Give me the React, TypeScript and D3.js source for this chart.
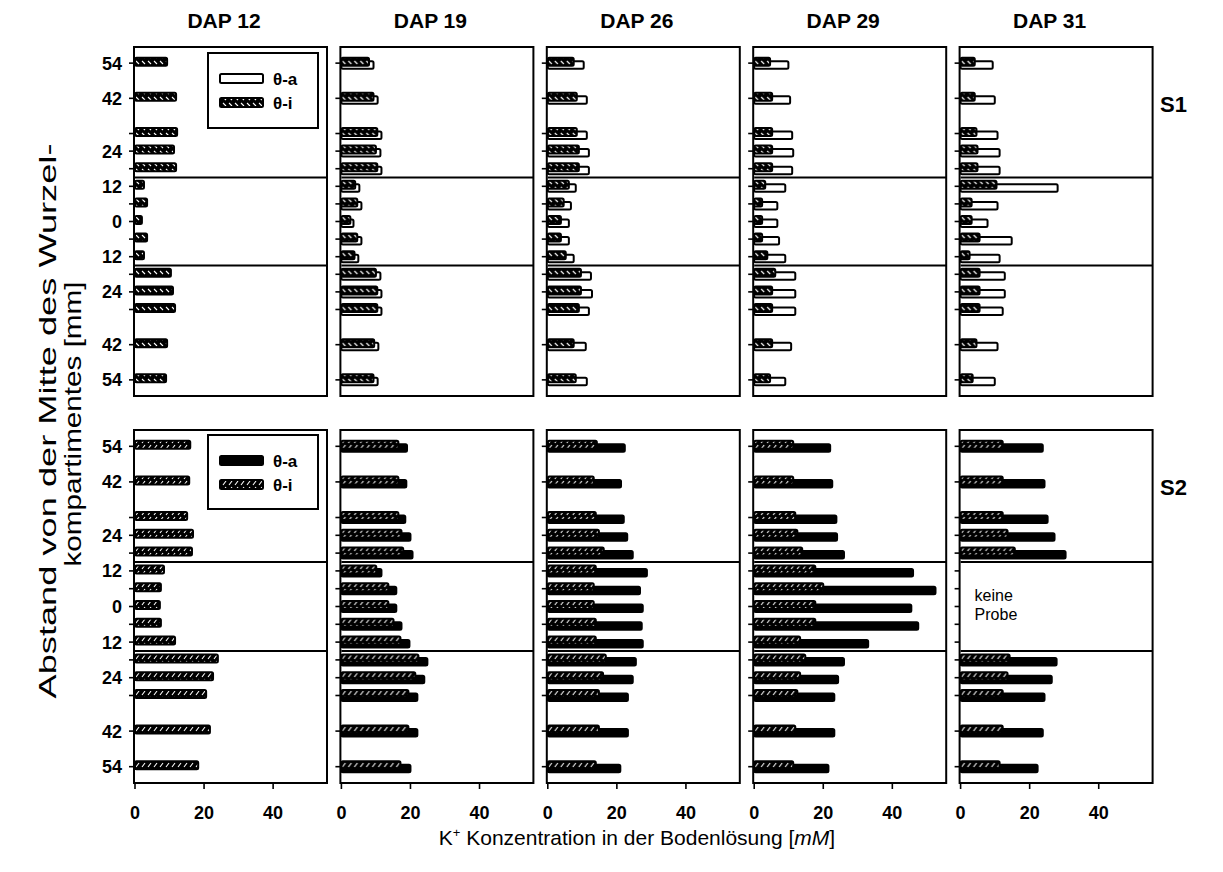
import React from "react";
import * as d3 from "d3";

// distance from the centre of the root compartment, top (+) to bottom (-)
const positions = [54, 42, 30, 24, 18, 12, 6, 0, -6, -12, -18, -24, -30, -42, -54];
const yTickLabels = ["54", "42", "", "24", "", "12", "", "0", "", "12", "", "24", "", "42", "54"];
const days = ["DAP 12", "DAP 19", "DAP 26", "DAP 29", "DAP 31"];
const xTicks = [0, 20, 40];

const N = null;
// S1: theta-a (open bars), theta-i (hatched)
const s1ThetaA: (number | null)[][] = [
  [N, N, N, N, N, N, N, N, N, N, N, N, N, N, N],
  [9.3, 10.5, 11.6, 11.3, 11.6, 5.2, 5.8, 3.5, 5.8, 4.9, 11.3, 11.6, 11.6, 10.7, 10.5],
  [10.4, 11.3, 11.3, 11.9, 11.9, 8.1, 6.7, 6.1, 6.1, 7.5, 12.5, 12.8, 11.9, 11, 11.3],
  [9.9, 10.4, 11, 11.3, 11, 9, 6.7, 6.7, 7.2, 9, 11.9, 11.9, 11.9, 10.7, 9],
  [9.3, 9.9, 10.7, 11.3, 11.3, 28.1, 10.7, 7.8, 14.8, 11.3, 12.8, 12.8, 12.2, 10.7, 9.9],
];
const s1ThetaI: (number | null)[][] = [
  [9.3, 11.9, 12.2, 11.3, 11.9, 2.6, 3.5, 2, 3.5, 2.6, 10.4, 11, 11.6, 9.3, 9],
  [8, 9.3, 10.4, 10, 10.4, 4, 4.6, 2.6, 4.6, 3.8, 10, 10.4, 10.4, 9.5, 9.3],
  [7.5, 8.4, 8.4, 9, 9, 6.1, 4.6, 3.8, 3.8, 5.2, 9.6, 9.6, 9, 7.5, 8.1],
  [4.6, 5.2, 5.2, 5.2, 5.2, 3.2, 2.3, 2.3, 2.3, 3.8, 6.1, 5.2, 5.2, 5.2, 4.6],
  [4.1, 4.1, 4.6, 4.9, 4.9, 10.4, 3.2, 3.2, 5.5, 2.6, 5.5, 5.5, 5.5, 4.6, 3.5],
];
// S2: theta-a (black bars), theta-i (hatched)
const s2ThetaA: (number | null)[][] = [
  [N, N, N, N, N, N, N, N, N, N, N, N, N, N, N],
  [19, 18.8, 18.5, 20, 20.6, 11.6, 15.9, 15.9, 17.4, 19.7, 24.9, 24, 22, 22, 20],
  [22.3, 21.2, 22, 23, 24.6, 28.7, 26.7, 27.5, 27.2, 27.5, 25.5, 24.6, 23.2, 23.2, 21],
  [22, 22.6, 23.8, 24, 26, 46, 52.5, 45.5, 47.5, 33, 26, 24.3, 23.2, 23.2, 21.5],
  [23.8, 24.3, 25.2, 27.2, 30.4, N, N, N, N, N, 27.8, 26.4, 24.3, 23.8, 22.3],
];
const s2ThetaI: (number | null)[][] = [
  [16, 15.7, 15.1, 16.8, 16.5, 8.4, 7.5, 7.2, 7.5, 11.6, 24, 22.6, 20.6, 21.7, 18.3],
  [16.5, 16.5, 16.5, 17.4, 17.9, 10.1, 13.6, 13.6, 15.1, 17.1, 22.3, 21.4, 19.4, 19.4, 17.1],
  [14.2, 13.3, 13.9, 14.8, 16.2, 13.9, 13.3, 13.3, 13.9, 13.9, 16.8, 16, 14.8, 14.8, 13.9],
  [11.3, 11.3, 11.9, 12.5, 13.9, 17.7, 20, 17.7, 17.7, 13.3, 14.8, 13.3, 12.5, 11.9, 11.3],
  [12.2, 12.2, 12.2, 13.6, 15.7, N, N, N, N, N, 14.2, 13.6, 12.2, 12.2, 11.3],
];

const FONT = "'Liberation Sans', Arial, sans-serif";
const colLeft = 135;
const colStep = 206.4;
const panelW = 192;
const rows = [
  { top: 47, bottom: 396, label: "S1", a: s1ThetaA, i: s1ThetaI, aFill: "#fff" },
  { top: 430, bottom: 783, label: "S2", a: s2ThetaA, i: s2ThetaI, aFill: "#000" },
];

const x = d3.scaleLinear().domain([0, 55.6]).range([0, panelW]);

const Panel = ({ row, col }: { row: number; col: number }) => {
  const r = rows[row];
  const y = d3.scaleLinear().domain([59.5, -59.5]).range([r.top, r.bottom]);
  const left = colLeft + col * colStep;
  const aVals = r.a[col];
  const iVals = r.i[col];
  return (
    <g transform={`translate(${left},0)`}>
      {positions.map((p, k) =>
        aVals[k] == null ? null : (
          <rect key={"a" + k} x={x(0)} y={y(p) - 2} width={x(aVals[k] as number)} height={7.5}
            rx={1.5} fill={r.aFill} stroke="#000" strokeWidth={2} />
        )
      )}
      {positions.map((p, k) =>
        iVals[k] == null ? null : (
          <rect key={"i" + k} x={x(0)} y={y(p) - 5.5} width={x(iVals[k] as number)} height={8}
            rx={1.5} fill={`url(#hatch${row})`} stroke="#000" strokeWidth={2} />
        )
      )}
      {[15, -15].map((v) => (
        <line key={v} x1={0} x2={panelW} y1={y(v)} y2={y(v)} stroke="#000" strokeWidth={2} />
      ))}
      <rect x={-1} y={r.top} width={panelW + 1} height={r.bottom - r.top} fill="none" stroke="#000" strokeWidth={2} />
      {positions.map((p, k) => (
        <line key={"t" + k} x1={-6} x2={-1} y1={y(p)} y2={y(p)} stroke="#000" strokeWidth={1.6} />
      ))}
      {col === 0 &&
        positions.map((p, k) => (
          <text key={"l" + k} x={-13} y={y(p)} dy="0.36em" textAnchor="end" fontSize={18}
            fontWeight="bold" fontFamily={FONT}>{yTickLabels[k]}</text>
        ))}
      {row === 1 &&
        xTicks.map((t) => (
          <g key={t}>
            <line x1={x(t)} x2={x(t)} y1={r.bottom} y2={r.bottom + 6} stroke="#000" strokeWidth={1.6} />
            <text x={x(t)} y={819} textAnchor="middle" fontSize={18} fontWeight="bold" fontFamily={FONT}>{t}</text>
          </g>
        ))}
      {row === 0 && (
        <text x={panelW / 2 - 7} y={28} textAnchor="middle" fontSize={21} fontWeight="bold" fontFamily={FONT}>
          {days[col]}
        </text>
      )}
      {row === 1 && col === 4 && (
        <text x={14} y={y(0) - 6} fontSize={16} fontFamily={FONT}>
          <tspan x={14}>keine</tspan>
          <tspan x={14} dy={19}>Probe</tspan>
        </text>
      )}
    </g>
  );
};

const Legend = ({ row }: { row: number }) => {
  const r = rows[row];
  const top = row === 0 ? 53 : 435;
  const h = row === 0 ? 75 : 74;
  return (
    <g>
      <rect x={208} y={top} width={110} height={h} fill="#fff" stroke="#000" strokeWidth={2} />
      <rect x={220} y={top + 21} width={43} height={9} rx={1.5} fill={r.aFill} stroke="#000" strokeWidth={2} />
      <rect x={220} y={top + 45} width={43} height={9} rx={1.5} fill={`url(#hatch${row})`} stroke="#000" strokeWidth={2} />
      <text x={273} y={top + 26} dy="0.36em" fontSize={17} fontWeight="bold" fontFamily={FONT}>θ-a</text>
      <text x={273} y={top + 50} dy="0.36em" fontSize={17} fontWeight="bold" fontFamily={FONT}>θ-i</text>
    </g>
  );
};

export default function App() {
  return (
    <svg width={1223} height={872} style={{ display: "block", position: "absolute", left: 0, top: 0 }}>
      <defs>
        <pattern id="hatch0" patternUnits="userSpaceOnUse" width={6} height={6}>
          <rect width={6} height={6} fill="#000" />
          <path d="M1,1 L4,4" stroke="#fff" strokeWidth={1.1} />
        </pattern>
        <pattern id="hatch1" patternUnits="userSpaceOnUse" width={6} height={6}>
          <rect width={6} height={6} fill="#000" />
          <path d="M1,5 L4,1" stroke="#fff" strokeWidth={1.1} />
        </pattern>
      </defs>
      <rect width={1223} height={872} fill="#fff" />
      {rows.map((r, ri) =>
        days.map((d, ci) => <Panel key={ri + "-" + ci} row={ri} col={ci} />)
      )}
      <Legend row={0} />
      <Legend row={1} />
      {rows.map((r) => (
        <text key={r.label} x={1160} y={r.top + 65} fontSize={22} fontWeight="bold" fontFamily={FONT}>{r.label}</text>
      ))}
      <text transform="translate(56,421) rotate(-90)" textAnchor="middle" fontSize={24} fontFamily={FONT}
        textLength={555} lengthAdjust="spacingAndGlyphs">
        Abstand von der Mitte des Wurzel-
      </text>
      <text transform="translate(81,424) rotate(-90)" textAnchor="middle" fontSize={24} fontFamily={FONT}
        textLength={285} lengthAdjust="spacingAndGlyphs">
        kompartimentes [mm]
      </text>
      <text x={637} y={845} textAnchor="middle" fontSize={21} fontFamily={FONT}>
        K<tspan dy={-8} fontSize={13}>+</tspan>
        <tspan dy={8}> Konzentration in der Bodenlösung [</tspan>
        <tspan fontStyle="italic">mM</tspan>]
      </text>
    </svg>
  );
}
